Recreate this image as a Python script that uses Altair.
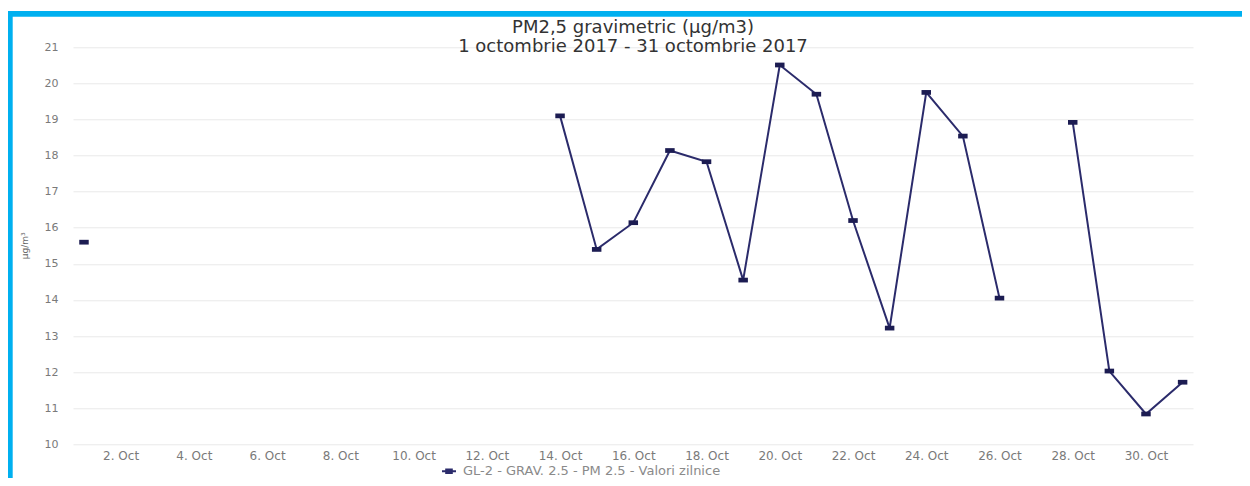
import altair as alt
import pandas as pd

# ---- data ----
days = list(range(1, 32))
pm25 = [15.6, None, None, None, None, None, None, None, None, None, None, None, None,
        19.10, 15.40, 16.14, 18.14, 17.83, 14.55, 20.51, 19.70, 16.20, 13.22, 19.75,
        18.54, 14.05, None, 18.92, 12.03, 10.84, 11.72]
series_name = "GL-2 - GRAV. 2.5 - PM 2.5 - Valori zilnice"
x_ticks = list(range(2, 31, 2))
y_ticks = list(range(10, 22))
title_line1 = "PM2,5 gravimetric (µg/m3)"
title_line2 = "1 octombrie 2017 - 31 octombrie 2017"
y_title = "µg/m³"

df = pd.DataFrame({"day": days, "value": pm25, "serie": [series_name] * len(days)})

FONT = "DejaVu Sans"
NAVY_LINE = "#2b2b6b"
NAVY_PT = "#1c1c52"
CYAN = "#00b0f0"

x_enc = alt.X("day:Q",
              scale=alt.Scale(domain=[0.7, 31.284], nice=False, zero=False),
              axis=alt.Axis(values=x_ticks, labelExpr="datum.value + '. Oct'",
                            title=None, grid=False, ticks=False, domain=False,
                            labelFontSize=12, labelColor="#7a7a7a", labelFont=FONT,
                            labelBaseline="middle", labelPadding=11, labelFlush=False))
y_enc = alt.Y("value:Q",
              scale=alt.Scale(domain=[10, 21], nice=False, zero=False),
              axis=alt.Axis(values=y_ticks, tickCount=12, labelOverlap=False,
                            title=y_title, grid=True, gridColor="#e9e9e9",
                            ticks=False, domain=False, labelFontSize=11,
                            labelColor="#7a7a7a", labelFont=FONT, labelPadding=15,
                            titleFontSize=9, titleColor="#666", titleFont=FONT,
                            titleFontWeight="normal", titleX=-49, titleY=198,
                            titleAngle=270, titleAlign="center", titleBaseline="middle"))

color_enc = alt.Color("serie:N",
                      scale=alt.Scale(range=[NAVY_LINE]),
                      legend=alt.Legend(title=None, orient="none", legendX=368, legendY=416,
                                        labelFontSize=13, labelColor="#8a8a8a", labelFont=FONT,
                                        labelLimit=0, labelOffset=6,
                                        symbolType="M-1,0L1,0M-0.4,-0.25L0.4,-0.25L0.4,0.25L-0.4,0.25Z",
                                        symbolSize=196, symbolStrokeWidth=2,
                                        symbolStrokeColor=NAVY_PT, symbolFillColor=NAVY_PT))

line = alt.Chart(df).mark_line(strokeWidth=2, invalid="break-paths-show-domains").encode(
    x=x_enc, y=y_enc, color=color_enc)

points = alt.Chart(df).mark_point(
    shape="M-1,-0.5L1,-0.5L1,0.5L-1,0.5Z", size=90, filled=True, opacity=1,
    color=NAVY_PT).encode(x=x_enc, y=y_enc)

frame_df = pd.DataFrame({"k": [0]})
top_bar = alt.Chart(frame_df).mark_rect(color=CYAN).encode(
    x=alt.value(-66), x2=alt.value(1175), y=alt.value(-36.3), y2=alt.value(-30.6))
left_bar = alt.Chart(frame_df).mark_rect(color=CYAN).encode(
    x=alt.value(-66), x2=alt.value(-60.3), y=alt.value(-36.3), y2=alt.value(440))

chart = alt.layer(top_bar, left_bar, line, points).properties(
    width=1120, height=397,
    title=alt.TitleParams(text=title_line1, subtitle=title_line2, anchor="middle",
                          fontSize=18, font=FONT, fontWeight="normal", color="#333333",
                          subtitleFontSize=18, subtitleFont=FONT, subtitleColor="#333333",
                          subtitleFontWeight="normal", subtitlePadding=1, offset=0, dy=45),
    autosize=alt.AutoSizeParams(type="none"),
    padding={"left": 65, "top": 39.3, "right": 49, "bottom": 33.7},
).configure(background="white").configure_view(stroke=None)

chart.save("out.html", embed_options={"renderer": "svg", "actions": False})
